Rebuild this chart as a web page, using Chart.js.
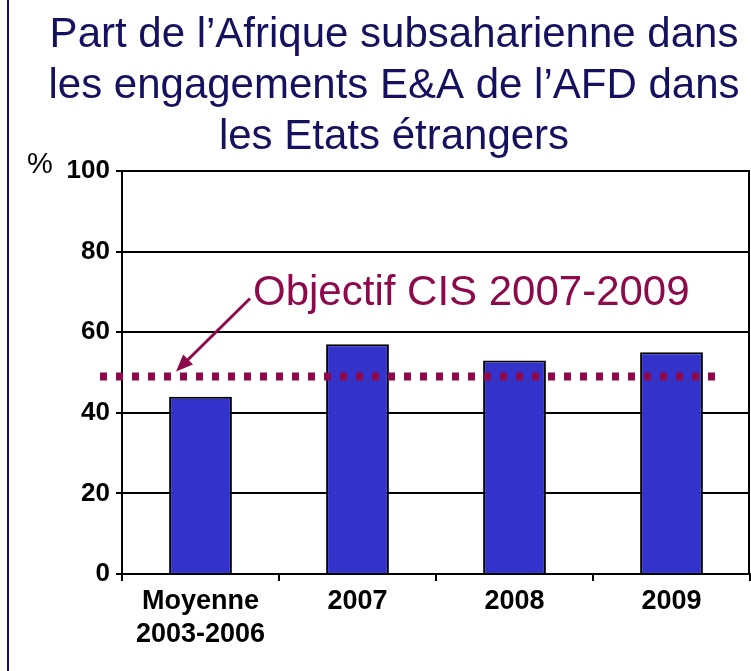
<!DOCTYPE html>
<html lang="fr">
<head>
<meta charset="utf-8">
<title>Part de l'Afrique subsaharienne</title>
<script src="https://cdn.jsdelivr.net/npm/chart.js@4.4.1/dist/chart.umd.min.js"></script>
<style>
  html, body { margin: 0; padding: 0; background: #fff; overflow: hidden; }
  canvas { display: block; }
</style>
</head>
<body>
<canvas id="afdChart" width="751" height="671"></canvas>
<script>
// Data
let categories = [["Moyenne", "2003-2006"], "2007", "2008", "2009"];
let shareValues = [44, 57, 53, 55];
let objectiveValue = 49;
let objectiveLabel = "Objectif CIS 2007-2009";
let titleLines = ["Part de l\u2019Afrique subsaharienne dans", "les engagements E&A de l\u2019AFD dans", "les Etats \u00e9trangers"];
let yTicks = [0, 20, 40, 60, 80, 100];

const FONT = "'Liberation Sans', Arial, Helvetica, sans-serif";
const NAVY = "#15115f";
const MAROON = "#8c0a4b";

// Extra drawing: title, % label, frame, objective line with arrow
const decorPlugin = {
    id: "decor",
    beforeDraw(chart) {
        let ctx = chart.ctx;
        ctx.save();
        ctx.fillStyle = "#fff";
        ctx.fillRect(0, 0, chart.width, chart.height);
        ctx.restore();
    },
    afterDatasetsDraw(chart) {
        let ctx = chart.ctx;
        let area = chart.chartArea;
        let yScale = chart.scales.y;
        ctx.save();

        // right border of plot
        ctx.strokeStyle = "#000";
        ctx.lineWidth = 2;
        ctx.beginPath();
        ctx.moveTo(area.right - 1, area.top);
        ctx.lineTo(area.right - 1, area.bottom);
        ctx.stroke();

        // objective dotted line
        let yObj = yScale.getPixelForValue(objectiveValue);
        ctx.strokeStyle = MAROON;
        ctx.lineWidth = 8;
        ctx.setLineDash([7, 9]);
        ctx.beginPath();
        ctx.moveTo(area.left - 22, yObj);
        ctx.lineTo(area.right - 34, yObj);
        ctx.stroke();
        ctx.setLineDash([]);

        // arrow pointing at the line
        let x0 = area.left + 128, y0 = yObj - 78;
        let x1 = area.left + 54, y1 = yObj - 5;
        let ang = Math.atan2(y1 - y0, x1 - x0);
        ctx.lineWidth = 3;
        ctx.beginPath();
        ctx.moveTo(x0, y0);
        ctx.lineTo(x1 - 10 * Math.cos(ang), y1 - 10 * Math.sin(ang));
        ctx.stroke();
        ctx.fillStyle = MAROON;
        ctx.beginPath();
        ctx.moveTo(x1, y1);
        ctx.lineTo(x1 - 17 * Math.cos(ang) + 7 * Math.sin(ang), y1 - 17 * Math.sin(ang) - 7 * Math.cos(ang));
        ctx.lineTo(x1 - 17 * Math.cos(ang) - 7 * Math.sin(ang), y1 - 17 * Math.sin(ang) + 7 * Math.cos(ang));
        ctx.closePath();
        ctx.fill();

        // objective label
        ctx.font = "42px " + FONT;
        ctx.textAlign = "left";
        ctx.textBaseline = "alphabetic";
        ctx.fillText(objectiveLabel, area.left + 131, yObj - 72);

        // title
        ctx.fillStyle = NAVY;
        ctx.textAlign = "center";
        titleLines.forEach((line, i) => {
            ctx.fillText(line, 394, 47 + i * 51);
        });

        // % unit
        ctx.fillStyle = "#000";
        ctx.font = "29px " + FONT;
        ctx.textAlign = "left";
        ctx.fillText("%", 27, 173);

        // slide border on the left
        ctx.fillStyle = NAVY;
        ctx.fillRect(7, 0, 2, chart.height);

        ctx.restore();
    }
};

new Chart(document.getElementById("afdChart").getContext("2d"), {
    type: "bar",
    data: {
        labels: categories,
        datasets: [{
            data: shareValues,
            backgroundColor: "#3333cc",
            borderColor: "#000",
            borderWidth: 2,
            categoryPercentage: 1,
            barPercentage: 0.4
        }]
    },
    options: {
        responsive: false,
        animation: false,
        layout: { padding: { top: 171, right: 1, left: 0, bottom: 0 } },
        plugins: {
            legend: { display: false },
            title: { display: false },
            tooltip: { enabled: false }
        },
        scales: {
            x: {
                afterFit: s => { s.height = 97; },
                grid: { display: true, drawOnChartArea: false, drawTicks: true, tickLength: 7, color: "#000", lineWidth: 2, offset: true },
                border: { display: true, color: "#000", width: 2 },
                ticks: {
                    color: "#000",
                    padding: 4,
                    maxRotation: 0,
                    autoSkip: false,
                    font: { family: FONT, size: 27, weight: "bold", lineHeight: 1.22 }
                }
            },
            y: {
                min: yTicks[0],
                max: yTicks[yTicks.length - 1],
                afterFit: s => { s.width = 122; },
                afterBuildTicks: s => { s.ticks = yTicks.map(v => ({ value: v })); },
                grid: { color: "#000", lineWidth: 2, tickLength: 6, drawTicks: true },
                border: { display: true, color: "#000", width: 2 },
                ticks: {
                    color: "#000",
                    padding: 6,
                    font: { family: FONT, size: 26, weight: "bold" }
                }
            }
        }
    },
    plugins: [decorPlugin]
});
</script>
</body>
</html>
